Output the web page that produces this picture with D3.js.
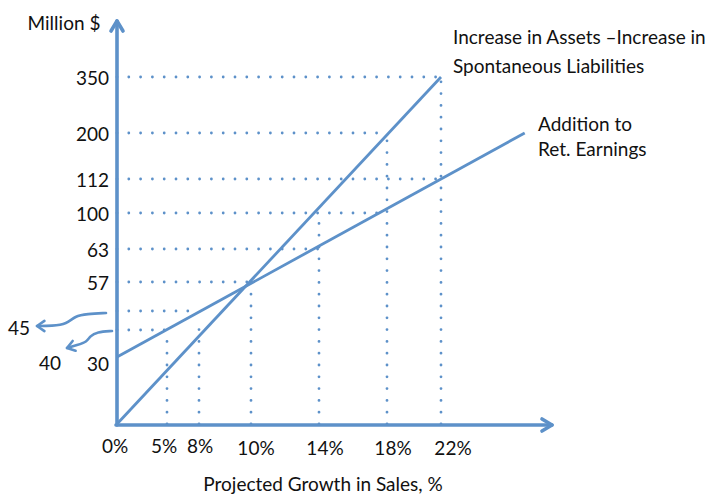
<!DOCTYPE html>
<html>
<head>
<meta charset="utf-8">
<script src="https://cdn.jsdelivr.net/npm/d3@7"></script>
<style>
  html, body { margin: 0; padding: 0; background: #fff; }
  svg text { font-family: Lato, "Open Sans", sans-serif; fill: #111; }
</style>
</head>
<body>
<svg id="chart" width="710" height="495"></svg>
<script>
// ---- data ----
const growthTicks = [0, 5, 8, 10, 14, 18, 22];
const growthLabels = ["0%", "5%", "8%", "10%", "14%", "18%", "22%"];
const valueStops = [0, 30, 40, 45, 57, 63, 100, 112, 200, 350];
const valueTicks = [30, 57, 63, 100, 112, 200, 350];
const calloutValues = [45, 40];

const assetsGrowth = [0, 22];
const assetsValues = [0, 350];
const retainedGrowth = [0, 28.2];
const retainedValues = [30, 200];

// horizontal guides: value -> reaches growth
const hGuideValues = [350, 200, 112, 100, 63, 57, 45, 40];
const hGuideReach  = [22, 18, 22, 18, 14, 10, 7.2, 5];
// vertical guides: growth -> starts at value
const vGuideGrowth = [5, 8, 10, 14, 18, 22];
const vGuideFrom   = [40, 41.5, 57, 100, 200, 350];

const assetsLabel = ["Increase in Assets \u2013Increase in", "Spontaneous Liabilities"];
const retainedLabel = ["Addition to", "Ret. Earnings"];
const yTitle = "Million $";
const xTitle = "Projected Growth in Sales, %";

// ---- layout ----
const blue = "#5d91c9";
const fs = 19;
const svg = d3.select("#chart");

const x = d3.scaleLinear()
  .domain(growthTicks)
  .range([117, 167, 199, 251, 319, 387, 441]);
const y = d3.scaleLinear()
  .domain(valueStops)
  .range([424, 357, 330, 311, 282, 249, 213, 179, 133, 77]);

const x0 = x(0), y0 = y(0);

// dotted guides
const dotted = sel => sel.attr("stroke", blue).attr("stroke-width", 2.8)
  .attr("stroke-linecap", "round").attr("stroke-dasharray", "0 11.8").attr("fill", "none");

svg.append("g").selectAll("line").data(hGuideValues).join("line")
  .attr("x1", x0).attr("x2", (d, i) => x(hGuideReach[i]))
  .attr("y1", d => y(d)).attr("y2", d => y(d))
  .call(dotted);

svg.append("g").selectAll("line").data(vGuideGrowth).join("line")
  .attr("x1", d => x(d)).attr("x2", d => x(d))
  .attr("y1", y0).attr("y2", (d, i) => y(vGuideFrom[i]))
  .call(dotted);

// series lines
const line = d3.line().x(d => x(d[0])).y(d => y(d[1]));
svg.append("path")
  .attr("d", line(assetsGrowth.map((g, i) => [g, assetsValues[i]])))
  .attr("stroke", blue).attr("stroke-width", 2.8).attr("fill", "none");
svg.append("path")
  .attr("d", line(retainedGrowth.map((g, i) => [g, retainedValues[i]])))
  .attr("stroke", blue).attr("stroke-width", 2.8).attr("fill", "none");

// axes with arrows
const axisStroke = sel => sel.attr("stroke", blue).attr("stroke-width", 3.6).attr("fill", "none")
  .attr("stroke-linecap", "round").attr("stroke-linejoin", "round");
svg.append("line").attr("x1", x0).attr("y1", y0 + 1).attr("x2", x0).attr("y2", 21).call(axisStroke);
svg.append("path").attr("d", `M${x0 - 6},${31} L${x0},${21} L${x0 + 6},${31}`).call(axisStroke);
svg.append("line").attr("x1", x0 - 1).attr("y1", y0 + 1).attr("x2", 552).attr("y2", y0 + 1).call(axisStroke);
svg.append("path").attr("d", `M${542},${y0 - 5} L${552},${y0 + 1} L${542},${y0 + 7}`).call(axisStroke);

// y tick labels
svg.append("g").selectAll("text").data(valueTicks).join("text")
  .attr("x", x0 - 8)
  .attr("y", d => y(d) + (d === 30 ? 6 : 0))
  .attr("text-anchor", "end").attr("dominant-baseline", "central")
  .attr("font-size", fs).text(d => d);

// x tick labels
svg.append("g").selectAll("text").data(growthTicks).join("text")
  .attr("x", (d, i) => x(d) + [ -2, -3, 1, 5, 6, 6, 12 ][i])
  .attr("y", (d, i) => i < 3 ? 445 : 447)
  .attr("text-anchor", "middle").attr("dominant-baseline", "central")
  .attr("font-size", fs).text((d, i) => growthLabels[i]);

// callouts 45 / 40 with curvy arrows
const curve = d3.line().curve(d3.curveBasis);
const calloutPaths = [
  [[x0 - 11, y(45) + 2], [x0 - 30, y(45) + 3], [x0 - 42, y(45) + 5], [x0 - 50, y(45) + 13], [x0 - 65, y(45) + 15], [x0 - 80, y(45) + 15]],
  [[x0 - 5, y(40) + 1], [x0 - 20, y(40) + 2], [x0 - 27, y(40) + 6], [x0 - 30, y(40) + 12], [x0 - 40, y(40) + 15], [x0 - 50, y(40) + 18]]
];
const calloutLabelPos = [[19, y(45) + 16], [50, y(40) + 32]];
calloutValues.forEach((v, i) => {
  const pts = calloutPaths[i];
  svg.append("path").attr("d", curve(pts))
    .attr("stroke", blue).attr("stroke-width", 2.6).attr("fill", "none").attr("stroke-linecap", "round");
  const tip = pts[pts.length - 1];
  const prev = pts[pts.length - 2];
  const ang = Math.atan2(tip[1] - prev[1], tip[0] - prev[0]);
  const L = 9, spread = 0.6;
  const w1 = [tip[0] - L * Math.cos(ang - spread), tip[1] - L * Math.sin(ang - spread)];
  const w2 = [tip[0] - L * Math.cos(ang + spread), tip[1] - L * Math.sin(ang + spread)];
  svg.append("path").attr("d", `M${w1}L${tip}L${w2}`)
    .attr("stroke", blue).attr("stroke-width", 2.6).attr("fill", "none")
    .attr("stroke-linecap", "round").attr("stroke-linejoin", "round");
  svg.append("text").attr("x", calloutLabelPos[i][0]).attr("y", calloutLabelPos[i][1])
    .attr("text-anchor", "middle").attr("dominant-baseline", "central")
    .attr("font-size", fs).text(v);
});

// titles
svg.append("text").attr("x", 64).attr("y", 22).attr("text-anchor", "middle")
  .attr("dominant-baseline", "central").attr("font-size", fs).text(yTitle);
svg.append("text").attr("x", 323).attr("y", 483).attr("text-anchor", "middle")
  .attr("dominant-baseline", "central").attr("font-size", fs).text(xTitle);

// series labels
svg.append("g").selectAll("text").data(assetsLabel).join("text")
  .attr("x", 453).attr("y", (d, i) => 36 + i * 29)
  .attr("dominant-baseline", "central").attr("font-size", fs).text(d => d);
svg.append("g").selectAll("text").data(retainedLabel).join("text")
  .attr("x", 538).attr("y", (d, i) => 123 + i * 25)
  .attr("dominant-baseline", "central").attr("font-size", fs).text(d => d);
</script>
</body>
</html>
